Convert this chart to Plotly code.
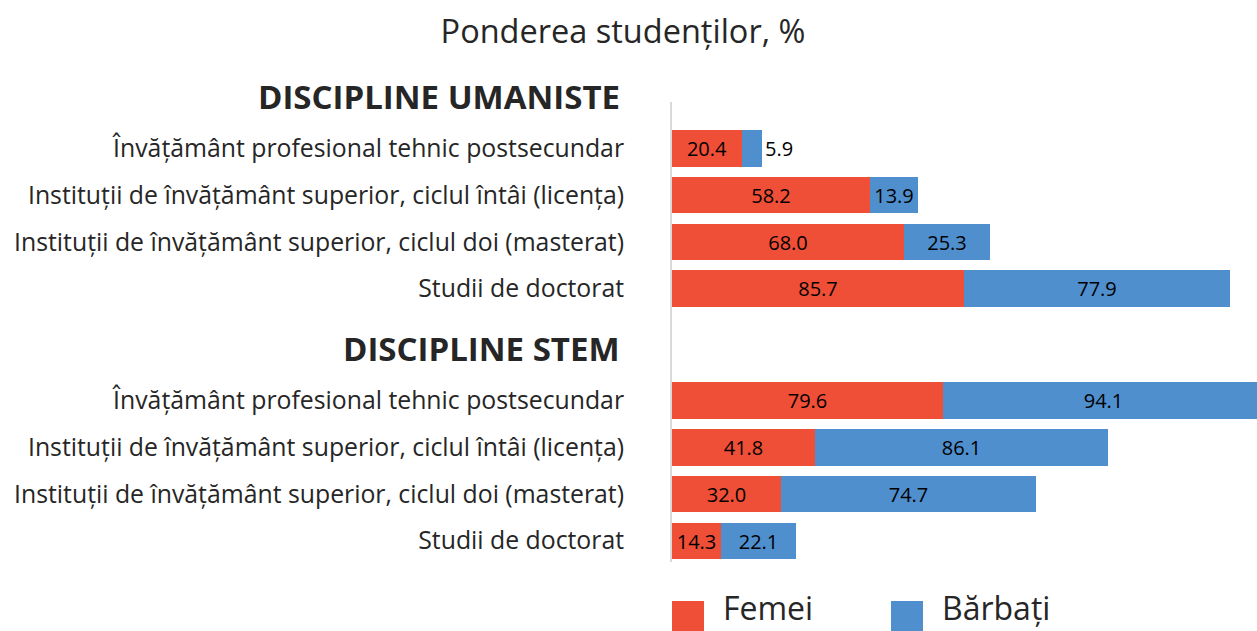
import plotly.graph_objects as go

title_text = "Ponderea studenților, %"
group_names = ["DISCIPLINE UMANISTE", "DISCIPLINE STEM"]
categories = [
    "Învățământ profesional tehnic postsecundar",
    "Instituții de învățământ superior, ciclul întâi (licența)",
    "Instituții de învățământ superior, ciclul doi (masterat)",
    "Studii de doctorat",
]
femei_umaniste = [20.4, 58.2, 68.0, 85.7]
barbati_umaniste = [5.9, 13.9, 25.3, 77.9]
femei_stem = [79.6, 41.8, 32.0, 14.3]
barbati_stem = [94.1, 86.1, 74.7, 22.1]
series_names = ["Femei", "Bărbați"]
colors = ["#EF4E37", "#4F8FCE"]

# ---- layout constants (pixels) ----
W, H = 1257, 631
ML, MT, MB = 672, 102, 69
PW, PH = W - ML, H - MT - MB

# row positions (in row units), second group offset by a gap
GAP = 2.40
HEADER_OFF = 1.11
Y_TOP, Y_BOT = -0.996, 8.854
y_um = [i for i in range(len(categories))]
y_st = [len(categories) - 1 + GAP + i for i in range(len(categories))]
y_all = y_um + y_st
labels_all = categories + categories
fem_all = femei_umaniste + femei_stem
bar_all = barbati_umaniste + barbati_stem

FONT = "Open Sans"
TXT = "#262626"


def fmt(v):
    return f"{v:.1f}"


def paper_y_from_row(r):
    return (Y_BOT - r) / (Y_BOT - Y_TOP)


fig = go.Figure()
fig.add_trace(go.Bar(
    name=series_names[0], y=y_all, x=fem_all, orientation="h",
    marker=dict(color=colors[0], line=dict(width=0)), width=0.78,
    text=[fmt(v) for v in fem_all], textposition="inside",
    insidetextanchor="middle", constraintext="none",
    textfont=dict(family=FONT, size=20, color="#000000"),
    hoverinfo="x+name", showlegend=False,
))
fig.add_trace(go.Bar(
    name=series_names[1], y=y_all, x=bar_all, orientation="h",
    marker=dict(color=colors[1], line=dict(width=0)), width=0.78,
    text=[fmt(v) for v in bar_all],
    textposition=["outside" if v < 8 else "inside" for v in bar_all],
    insidetextanchor="middle", constraintext="none",
    textfont=dict(family=FONT, size=20, color="#000000"),
    outsidetextfont=dict(family=FONT, size=20, color="#000000"),
    hoverinfo="x+name", cliponaxis=True, showlegend=False,
))

annotations = []
for name, first_y in zip(group_names, [y_um[0], y_st[0]]):
    annotations.append(dict(
        text=f"<b>{name}</b>", x=(622 - ML) / PW, xref="paper", xanchor="right",
        y=paper_y_from_row(first_y - HEADER_OFF), yref="paper", yanchor="middle",
        showarrow=False, font=dict(family=FONT, size=33, color=TXT),
    ))

# legend (large squares like the reference)
shapes = []
leg_x = [672, 891]
for name, col, lx in zip(series_names, colors, leg_x):
    shapes.append(dict(
        type="rect", xref="paper", yref="paper",
        x0=(lx - ML) / PW, x1=(lx + 32 - ML) / PW,
        y0=(MT + PH - 601) / PH, y1=(MT + PH - 634) / PH,
        fillcolor=col, line=dict(width=0), layer="above",
    ))
    annotations.append(dict(
        text=name, x=(lx + 50 - ML) / PW, xref="paper", xanchor="left",
        y=(MT + PH - 630) / PH, yref="paper", yanchor="bottom", borderpad=0,
        showarrow=False, font=dict(family=FONT, size=32, color=TXT),
    ))

fig.update_layout(
    width=W, height=H,
    margin=dict(l=ML, r=0, t=MT, b=MB),
    paper_bgcolor="white", plot_bgcolor="white",
    barmode="stack", bargap=0,
    title=dict(text=title_text, x=623 / W, xanchor="center", y=1 - 32 / H, yanchor="middle",
               font=dict(family=FONT, size=32.5, color=TXT)),
    xaxis=dict(range=[0, 171.6], visible=False, fixedrange=True),
    yaxis=dict(range=[Y_BOT, Y_TOP], tickvals=y_all, ticktext=labels_all,
               showgrid=False, zeroline=False, showline=True, linecolor="#D9D9D9",
               linewidth=2, ticks="", ticklabelstandoff=41, fixedrange=True,
               tickfont=dict(family=FONT, size=24.8, color=TXT)),
    showlegend=False,
    annotations=annotations,
    shapes=shapes,
    font=dict(family=FONT),
)

fig.write_html(
    "out.html",
    config={"displayModeBar": False},
    post_script="document.body.style.margin='0px';document.body.style.overflow='hidden';",
)
